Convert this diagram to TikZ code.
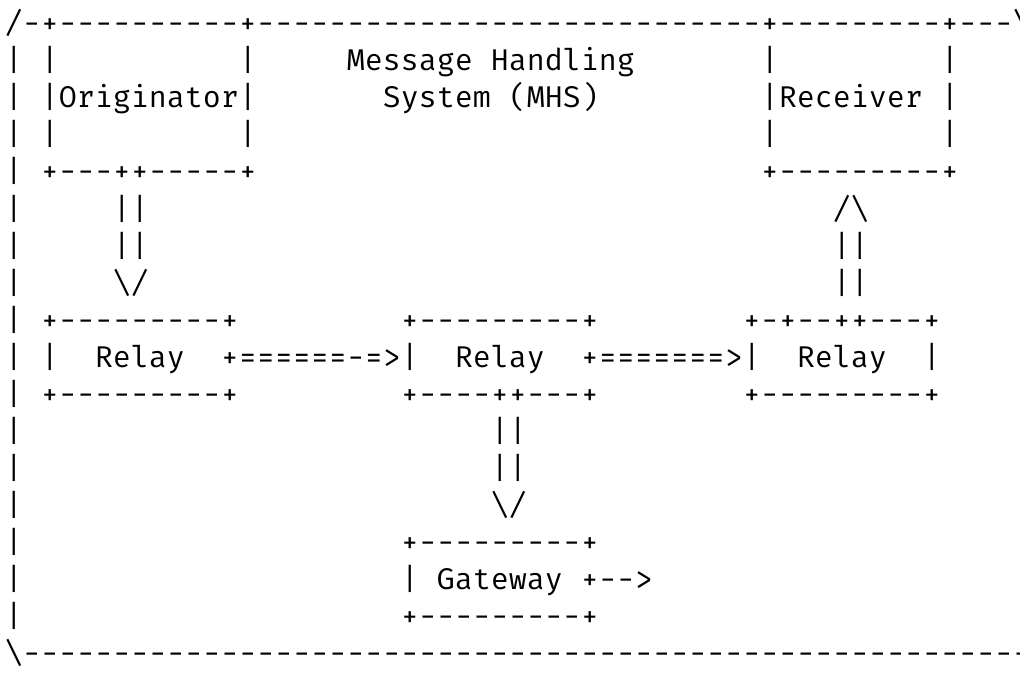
\documentclass[tikz,border=0pt]{standalone}
\usepackage{fontspec}
\setmonofont{Fira Mono}
\newcommand\spc[1]{\kern\dimexpr\fontcharwd\font`x*#1\relax}
\ExplSyntaxOn
\cs_new:Npn \rpt #1#2 { \prg_replicate:nn {#1} {#2} }
\ExplSyntaxOff
\begin{document}
\begin{tikzpicture}[x=1pt,y=-1pt,
  ln/.style={anchor=base west,inner sep=0pt,outer sep=0pt,
    font=\ttfamily\fontsize{30}{37}\selectfont}]
\useasboundingbox (0,0) rectangle (1020,674);
\node[ln] (r0)  at (5,34)  {/-+\rpt{10}{-}+\rpt{28}{-}+\rpt{9}{-}+---\textbackslash};
\node[ln] (r1)  at (5,71)  {|\spc{1}|\spc{10}|\spc{5}Message Handling\spc{7}|\spc{9}|};
\node[ln] (r2)  at (5,108) {|\spc{1}|Originator|\spc{7}System (MHS)\spc{9}|Receiver\spc{1}|};
\node[ln] (r3)  at (5,145) {|\spc{1}|\spc{10}|\spc{28}|\spc{9}|};
\node[ln] (r4)  at (5,182) {|\spc{1}+---++-----+\spc{28}+\rpt{9}{-}+};
\node[ln] (r5)  at (5,219) {|\spc{5}||\spc{38}/\textbackslash};
\node[ln] (r6)  at (5,256) {|\spc{5}||\spc{38}||};
\node[ln] (r7)  at (5,293) {|\spc{5}\textbackslash/\spc{38}||};
\node[ln] (r8)  at (5,330) {|\spc{1}+\rpt{9}{-}+\spc{9}+\rpt{9}{-}+\spc{8}+-+--++---+};
\node[ln] (r9)  at (5,367) {|\spc{1}|\spc{2}Relay\spc{2}+======-=>|\spc{2}Relay\spc{2}+=======>|\spc{2}Relay\spc{2}|};
\node[ln] (r10) at (5,404) {|\spc{1}+\rpt{9}{-}+\spc{9}+----++---+\spc{8}+\rpt{9}{-}+};
\node[ln] (r11) at (5,441) {|\spc{26}||};
\node[ln] (r12) at (5,478) {|\spc{26}||};
\node[ln] (r13) at (5,515) {|\spc{26}\textbackslash/};
\node[ln] (r14) at (5,552) {|\spc{21}+\rpt{9}{-}+};
\node[ln] (r15) at (5,589) {|\spc{21}|\spc{1}Gateway\spc{1}+-->};
\node[ln] (r16) at (5,626) {|\spc{21}+\rpt{9}{-}+};
\node[ln] (r17) at (5,663) {\textbackslash\rpt{56}{-}};
\end{tikzpicture}
\end{document}
